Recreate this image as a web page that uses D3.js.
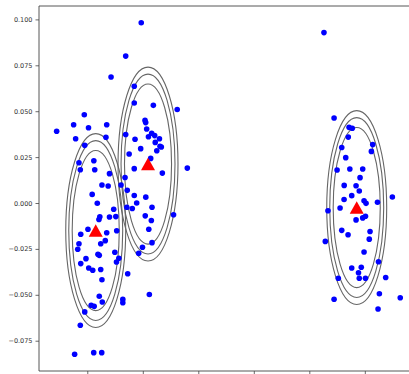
<!DOCTYPE html>
<html><head><meta charset="utf-8">
<script src="https://cdn.jsdelivr.net/npm/d3@7/dist/d3.min.js"></script>
<style>body{margin:0;background:#fff}svg{display:block}</style>
</head><body><svg id="c" width="409" height="374"></svg>
<script>
const pointsX = [
-0.1027,-0.1123,-0.0825,-0.0989,-0.1276,-0.1105,-0.0832,-0.1023,-0.1075,-0.0941,-0.1063,-0.0933,-0.0868,-0.0812,-0.0956,-0.0910,-0.0887,-0.0895,-0.0994,-0.1059,-0.0825,-0.0838,-0.0879,-0.1075,-0.1086,-0.0904,-0.0892,-0.1012,-0.1059,-0.0987,-0.0951,-0.0879,-0.0868,-0.0892,-0.0865,-0.0965,-0.0938,-0.1023,-0.1063,-0.1114,-0.0942,-0.0870,
-0.0514,-0.0654,-0.0786,-0.0577,-0.0577,-0.0405,-0.0190,-0.0480,-0.0474,-0.0465,-0.0654,-0.0420,-0.0393,-0.0449,-0.0350,-0.0570,-0.0388,-0.0345,-0.0333,-0.0519,-0.0374,-0.0623,-0.0429,-0.0577,-0.0099,-0.0324,-0.0800,-0.0660,-0.0696,-0.0640,-0.0577,-0.0555,-0.0473,-0.0417,-0.0644,-0.0595,-0.0762,-0.0478,-0.0423,-0.0223,-0.0800,-0.0743,-0.0735,-0.0446,-0.0417,-0.0503,-0.0537,-0.0752,-0.0716,-0.0737,-0.0636,-0.0441,-0.0680,-0.0680,
0.1132,0.1223,0.1358,0.1387,0.1351,0.1571,0.1292,0.1559,0.1328,0.1250,0.1365,0.1481,0.1457,0.1314,0.1421,0.1450,0.1382,0.1313,0.1493,0.1511,0.1614,0.1748,0.1277,0.1168,0.1421,0.1481,0.1506,0.1292,0.1349,0.1547,0.1540,0.1144,0.1493,0.1623,0.1382,0.1468,0.1443,0.1261,0.1450,0.1506,0.1688,0.1631,0.1223,0.1819,0.1619];
const pointsY = [
0.0481,0.0426,0.0426,0.0410,0.0391,0.0350,0.0358,0.0314,0.0219,0.0230,0.0181,0.0181,0.0098,0.0093,0.0047,-0.0001,-0.0075,-0.0090,-0.0143,-0.0170,-0.0162,-0.0205,-0.0222,-0.0222,-0.0252,-0.0279,-0.0285,-0.0303,-0.0330,-0.0354,-0.0366,-0.0362,-0.0418,-0.0508,-0.0539,-0.0557,-0.0563,-0.0593,-0.0666,-0.0824,-0.0815,-0.0815,
0.0982,0.0800,0.0686,0.0636,0.0545,0.0532,0.0509,0.0450,0.0438,0.0403,0.0373,0.0380,0.0367,0.0361,0.0350,0.0347,0.0330,0.0309,0.0305,0.0296,0.0285,0.0267,0.0243,0.0187,0.0190,0.0163,0.0160,0.0139,0.0098,0.0069,0.0041,0.0000,0.0032,-0.0023,-0.0023,-0.0030,-0.0034,-0.0070,-0.0095,-0.0064,-0.0076,-0.0074,-0.0151,-0.0143,-0.0216,-0.0241,-0.0274,-0.0268,-0.0301,-0.0321,-0.0385,-0.0498,-0.0525,-0.0543,
0.0928,0.0463,0.0412,0.0407,0.0359,0.0318,0.0302,0.0281,0.0247,0.0180,0.0185,0.0185,0.0138,0.0096,0.0094,0.0065,0.0040,0.0019,0.0012,-0.0002,0.0004,0.0033,-0.0027,-0.0042,-0.0092,-0.0081,-0.0072,-0.0149,-0.0173,-0.0155,-0.0197,-0.0209,-0.0267,-0.0320,-0.0354,-0.0350,-0.0380,-0.0410,-0.0410,-0.0410,-0.0406,-0.0494,-0.0524,-0.0516,-0.0577];
const meansX = [-0.0924, -0.0453, 0.1427];
const meansY = [-0.0150, 0.0212, -0.0025];
const ellipseRx = [0.0212, 0.0243, 0.0270];
const ellipseRy = [0.0436, 0.0490, 0.0528];
const yTicks = [0.100, 0.075, 0.050, 0.025, 0.000, -0.025, -0.050, -0.075];
const xTicks = [-0.10, -0.05, 0.00, 0.05, 0.10, 0.15];

const svg = d3.select('#c');
const L = 39, T = 6, R = 420, B = 371;
const x = d3.scaleLinear().domain([-0.1435, 0.1997]).range([L, R]);
const y = d3.scaleLinear().domain([0.1073, -0.0915]).range([T, B]);

const g = svg.append('g');
// ellipses
meansX.forEach((mx, i) => {
  const my = meansY[i];
  ellipseRx.forEach((rx, j) => {
    g.append('ellipse')
      .attr('cx', x(mx)).attr('cy', y(my))
      .attr('rx', x(mx + rx) - x(mx))
      .attr('ry', y(my - ellipseRy[j]) - y(my))
      .attr('fill', 'none').attr('stroke', '#666').attr('stroke-width', 1.1);
  });
});
// points
g.selectAll('circle.pt').data(pointsX.map((v, i) => [v, pointsY[i]])).join('circle')
  .attr('class', 'pt')
  .attr('cx', d => x(d[0])).attr('cy', d => y(d[1])).attr('r', 2.8)
  .attr('fill', '#0000ff');
// means
meansX.forEach((mx, i) => {
  const cx = x(mx), cy = y(meansY[i]);
  g.append('path')
    .attr('d', `M${cx},${cy - 6.4}L${cx - 7},${cy + 6.2}L${cx + 7},${cy + 6.2}Z`)
    .attr('fill', '#ff0000');
});

// axes
const ya = d3.axisLeft(y).tickValues(yTicks).tickSize(3.5).tickPadding(3)
  .tickFormat(d => d3.format('.3f')(d).replace('-', '\u2212'));
const yg = svg.append('g').attr('transform', `translate(${L},0)`).call(ya);
// x tick labels fall below the visible area in the reference, so only marks are drawn
const xa = d3.axisBottom(x).tickValues(xTicks).tickSize(3.5).tickFormat('');
const xg = svg.append('g').attr('transform', `translate(0,${B})`).call(xa);
[yg, xg].forEach(a => {
  a.select('.domain').remove();
  a.selectAll('line').attr('stroke', '#444').attr('stroke-width', 0.8);
  a.selectAll('text').attr('fill', '#333').style('font-family', 'DejaVu Sans').style('font-size', '6.5px');
});
// spines
svg.append('path').attr('d', `M${L},${B}V${T}H${R}`).attr('fill', 'none').attr('stroke', '#444').attr('stroke-width', 0.9);
svg.append('line').attr('x1', L).attr('x2', R).attr('y1', B).attr('y2', B).attr('stroke', '#444').attr('stroke-width', 0.9);
</script></body></html>
